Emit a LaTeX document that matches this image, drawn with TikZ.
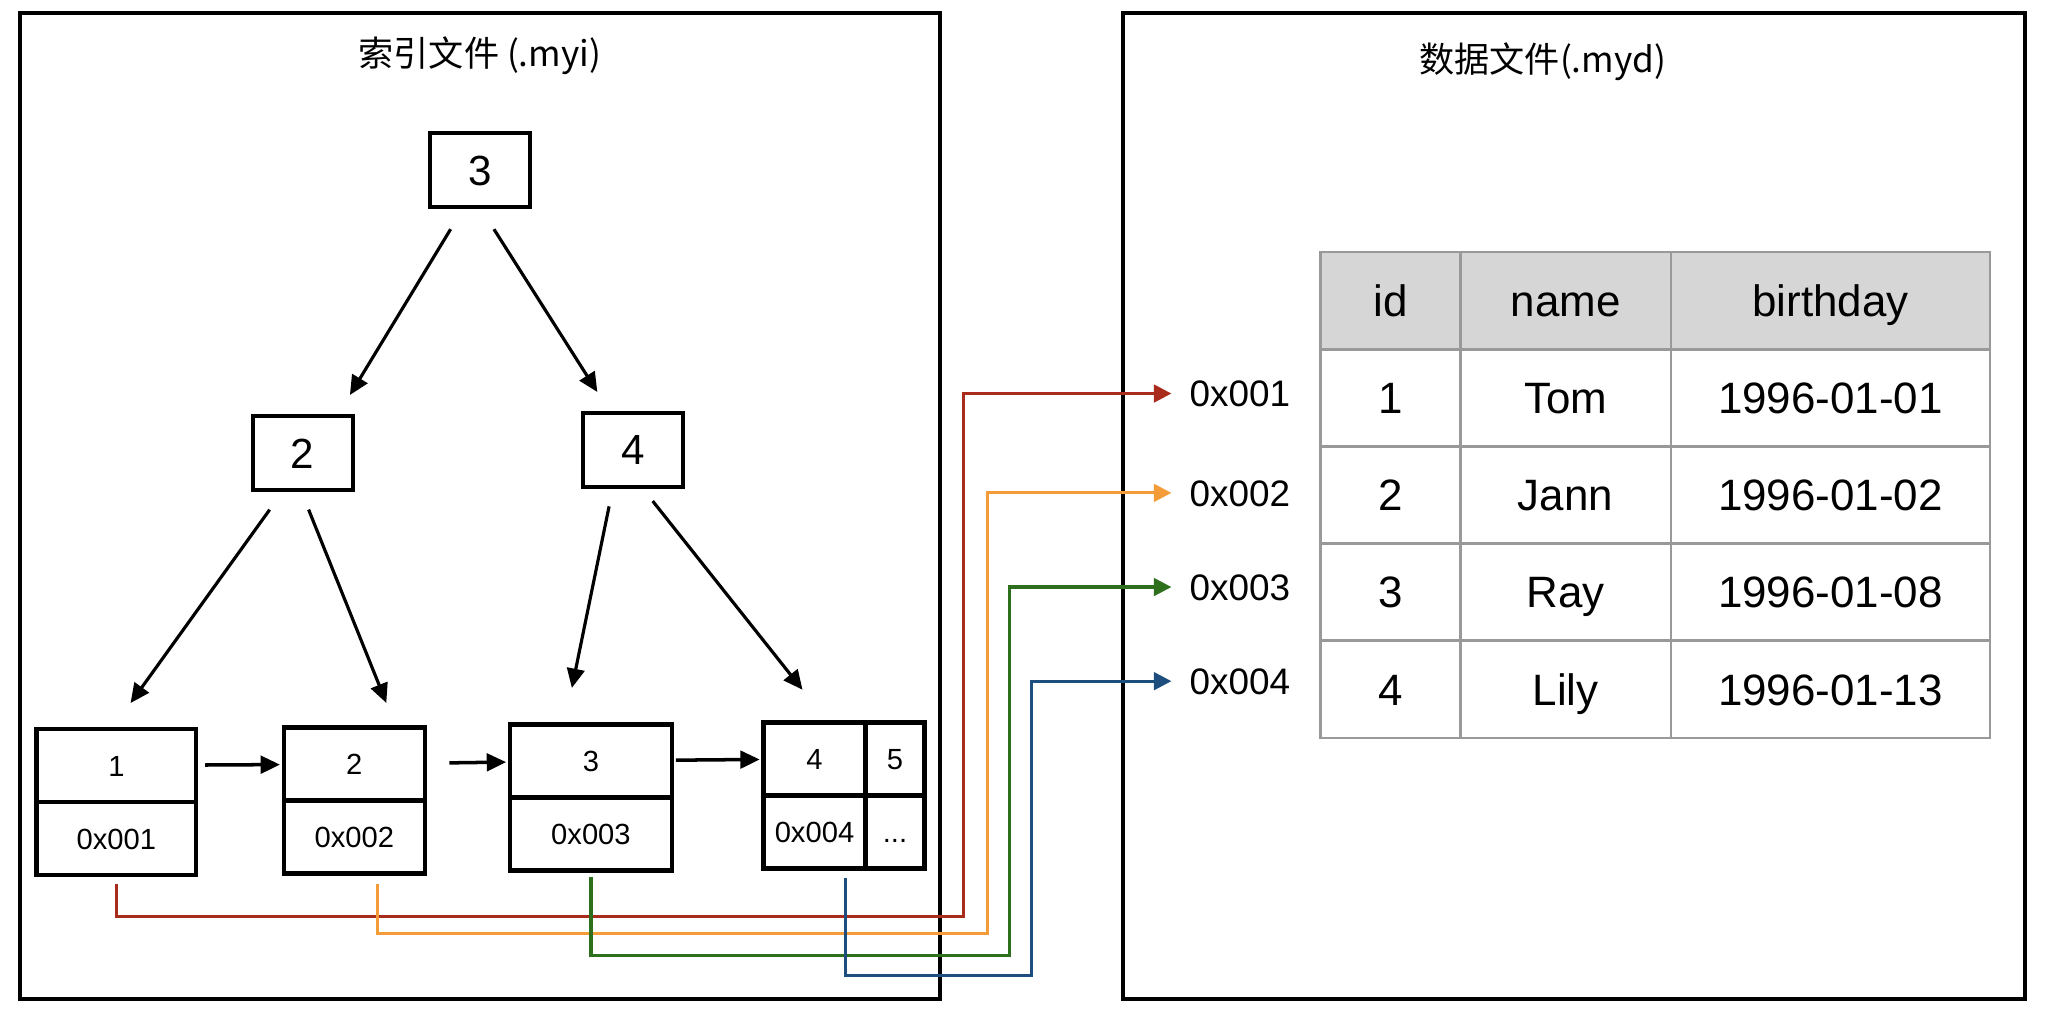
\documentclass[tikz,border=0pt]{standalone}
\usepackage{fontspec}
\setmainfont{Liberation Sans}
\newfontfamily\cjk{Noto Sans CJK SC}
\usetikzlibrary{arrows.meta,positioning}

\definecolor{ptrred}{HTML}{A82B1B}
\definecolor{ptrorange}{HTML}{F39C38}
\definecolor{ptrgreen}{HTML}{2E6F1E}
\definecolor{ptrblue}{HTML}{1D4E7E}
\definecolor{tabgray}{HTML}{999999}
\definecolor{headgray}{HTML}{D6D6D6}

\tikzset{
	filebox/.style={line width=1.2pt},
	filetitle/.style={font=\cjk\fontsize{10}{12}\selectfont},
	treenode/.style={draw, line width=1.2pt, outer sep=0pt, minimum width=1cm,
		minimum height=0.74cm, text height=8.6pt, text depth=0pt,
		font=\fontsize{12}{14}\selectfont},
	leafbox/.style={draw, line width=1.3pt, outer sep=0pt, inner sep=0pt,
		minimum height=0.73cm, text height=6pt, text depth=0pt,
		font=\fontsize{8.3}{10}\selectfont},
	treearrow/.style={line width=0.9pt, -{Triangle[length=5.5pt,width=5pt]}},
	nextarrow/.style={line width=1pt, -{Triangle[length=5.5pt,width=5pt]}},
	ptrline/.style={line width=0.9pt, -{Triangle[length=5pt,width=5pt]}},
	addr/.style={anchor=west, inner xsep=5pt, text height=7.5pt, text depth=0pt,
		font=\fontsize{10.5}{12}\selectfont},
	cell/.style={draw=tabgray, line width=0.7pt, outer sep=0pt, inner sep=0pt,
		minimum height=0.971cm, text height=9pt, text depth=0pt,
		font=\fontsize{12.5}{15}\selectfont},
	headcell/.style={cell, fill=headgray},
}

\begin{document}
\begin{tikzpicture}[x={(0.013074cm,0)},y={(0,-0.013074cm)}]
	\useasboundingbox (0,0) rectangle (1568,774);
	
	% the two files
	\draw[filebox] (15,10) rectangle (719,764);
	\draw[filebox] (859,10) rectangle (1549,764);
	\node[filetitle] (ititle) at (367,43) {索引文件 (.myi)};
	\node[filetitle] (dtitle) at (1180,47) {数据文件(.myd)};
	
	% index tree
	\node[treenode] (r3) at (367,130) {3};
	\node[treenode] (n2) at (231.5,346.5) {2};
	\node[treenode] (n4) at (484,344) {4};
	
	% leaves
	\node[leafbox, minimum width=1.595cm] (k1) at (89,585.5) {1};
	\node[leafbox, minimum width=1.595cm, below=0pt of k1] (p1) {0x001};
	\node[leafbox, minimum width=1.41cm] (k2) at (271,584.5) {2};
	\node[leafbox, minimum width=1.41cm, below=0pt of k2] (p2) {0x002};
	\node[leafbox, minimum width=1.62cm] (k3) at (452,582) {3};
	\node[leafbox, minimum width=1.62cm, below=0pt of k3] (p3) {0x003};
	\node[leafbox, minimum width=1.02cm] (k4) at (623,580.5) {4};
	\node[leafbox, minimum width=1.02cm, below=0pt of k4] (p4) {0x004};
	\node[leafbox, minimum width=0.59cm, right=0pt of k4] (k5) {5};
	\node[leafbox, minimum width=0.59cm, below=0pt of k5] (p5) {...};
	
	\draw[treearrow, shorten <=7.4pt, shorten >=7pt] (r3.247) -- (n2.47);
	\draw[treearrow, shorten <=7.5pt, shorten >=7pt] (r3.270) -- (n4.121);
	\draw[treearrow, shorten <=6.9pt, shorten >=9.1pt] (n2.243) -- (k1.97);
	\draw[treearrow, shorten <=6pt, shorten >=7.6pt] (n2.267) -- (k2.41);
	\draw[treearrow, shorten <=5.7pt, shorten >=10.6pt] (n4.242) -- (k3.126);
	\draw[treearrow, shorten <=5.2pt, shorten >=11.9pt] (n4.283) -- (k4.69);
	
	\draw[nextarrow, shorten <=2.6pt, shorten >=1.1pt] (k1) -- (k2);
	\draw[nextarrow, shorten <=7pt, shorten >=1.1pt] (k2) -- (k3);
	\draw[nextarrow, shorten <=1.1pt, shorten >=1.1pt] (k3) -- (k4);
	
	% data table
	\foreach \txt/\xc/\w [count=\c] in {id/1063.5/1.399, name/1197.5/2.105, birthday/1400/3.19}
		\node[headcell, minimum width=\w cm] (h\c) at (\xc,230) {\txt};
	\foreach \rid/\rname/\rday [count=\r] in {1/Tom/1996-01-01, 2/Jann/1996-01-02, 3/Ray/1996-01-08, 4/Lily/1996-01-13} {
		\node[cell, minimum width=1.399cm] (id\r) at (1063.5,{230+74.3*\r}) {\rid};
		\node[cell, minimum width=2.105cm] (name\r) at (1197.5,{230+74.3*\r}) {\rname};
		\node[cell, minimum width=3.19cm] (bday\r) at (1400,{230+74.3*\r}) {\rday};
	}
	
	% addresses
	\node[addr] (a1) at (896,301) {0x001};
	\node[addr] (a2) at (896,377) {0x002};
	\node[addr] (a3) at (896,449) {0x003};
	\node[addr] (a4) at (896,521) {0x004};
	
	\coordinate (c1) at (737,701);
	\coordinate (c2) at (755,714);
	\coordinate (c3) at (772,731);
	\coordinate (c4) at (789,746);
	\draw[ptrline, ptrred, shorten <=2.6pt] (p1.south) |- (c1) |- (a1.west);
	\draw[ptrline, ptrorange, shorten <=3pt] (p2.302) |- (c2) |- (a2.west);
	\draw[ptrline, ptrgreen, shorten <=1.9pt] (p3.south) |- (c3) |- (a3.west);
	\draw[ptrline, ptrblue, shorten <=2.6pt] (p4.310) |- (c4) |- (a4.west);
	
\end{tikzpicture}
\end{document}
